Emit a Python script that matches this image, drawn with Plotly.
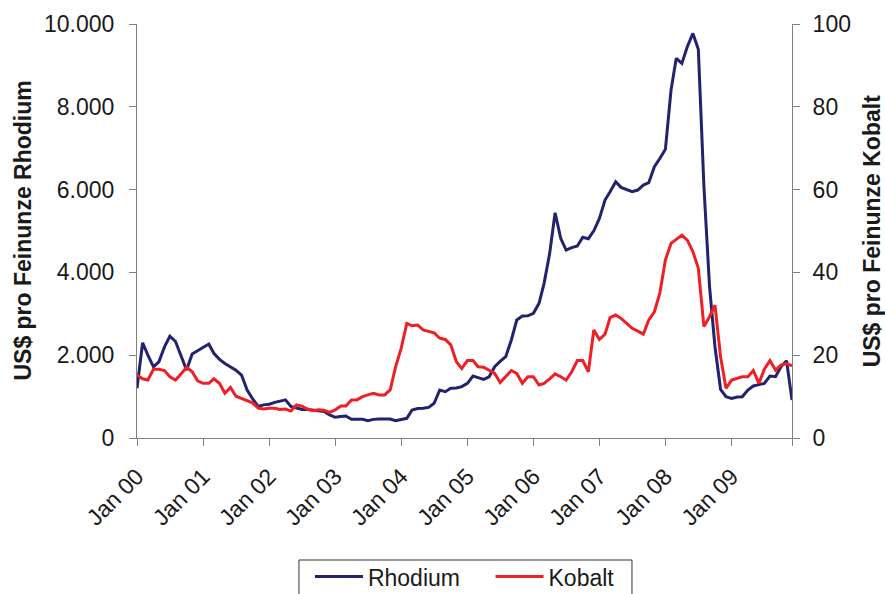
import plotly.graph_objects as go
import pandas as pd

# Monthly data Jan 2000 - Dec 2009
months = pd.date_range("2000-01-01", periods=120, freq="MS")

rhodium = [
    1200, 2300, 2000, 1720, 1840, 2200, 2460, 2330, 1980, 1640, 2030, 2110,
    2180, 2270, 2045, 1900, 1800, 1720, 1640, 1520, 1160, 950, 760, 800,
    815, 860, 890, 920, 760, 720, 690, 690, 676, 660, 640, 560,
    500, 520, 530, 450, 450, 450, 420, 450, 460, 460, 460, 420,
    440, 476, 676, 710, 720, 740, 840, 1160, 1118, 1200, 1210, 1240,
    1320, 1497, 1460, 1417, 1480, 1722, 1850, 1963, 2367, 2850, 2946, 2950,
    3011, 3253, 3736, 4460, 5441, 4823, 4540, 4600, 4637, 4847, 4814, 5006,
    5305, 5748, 5948, 6190, 6054, 6000, 5948, 5989, 6110, 6166, 6552, 6750,
    6972, 8404, 9170, 9049, 9450, 9773, 9387, 6069, 3654, 2205, 1176, 997,
    958, 990, 997, 1160, 1256, 1290, 1320, 1497, 1480, 1722, 1867, 918,
]

kobalt = [
    15.2, 14.3, 14.0, 16.6, 16.6, 16.3, 14.8, 14.0, 15.5, 17.1, 16.0, 13.8,
    13.2, 13.2, 14.3, 13.2, 10.8, 12.2, 10.1, 9.6, 9.0, 8.5, 7.2, 7.0,
    7.2, 7.2, 6.9, 7.0, 6.5, 8.0, 7.7, 7.0, 6.6, 6.8, 6.7, 6.2,
    6.8, 7.7, 7.7, 9.2, 9.2, 10.0, 10.4, 10.8, 10.4, 10.4, 11.6, 17.2,
    21.7, 27.7, 27.1, 27.3, 26.1, 25.8, 25.4, 24.1, 23.8, 22.5, 18.4, 16.8,
    18.7, 18.7, 17.2, 17.1, 16.3, 15.6, 13.4, 14.8, 16.3, 15.6, 13.2, 14.8,
    14.8, 12.8, 13.2, 14.3, 15.5, 14.8, 14.0, 16.0, 18.7, 18.7, 16.0, 26.1,
    23.8, 25.1, 29.1, 29.7, 28.9, 27.7, 26.5, 25.8, 25.1, 28.5, 30.5, 35.0,
    43.0, 47.0, 48.0, 49.0, 47.8, 45.0, 41.0, 26.9, 29.3, 32.1, 19.6, 12.0,
    14.0, 14.4, 14.8, 14.8, 16.3, 13.2, 16.6, 18.7, 16.4, 17.6, 18.0, 17.4,
]

x_tick_dates = ["2000-01-01", "2001-01-01", "2002-01-01", "2003-01-01", "2004-01-01",
                "2005-01-01", "2006-01-01", "2007-01-01", "2008-01-01", "2009-01-01",
                "2009-12-01"]
x_tick_text = ["Jan 00", "Jan 01", "Jan 02", "Jan 03", "Jan 04",
               "Jan 05", "Jan 06", "Jan 07", "Jan 08", "Jan 09", ""]

left_ticks = [0, 2000, 4000, 6000, 8000, 10000]
right_ticks = [0, 20, 40, 60, 80, 100]

FONT = "Liberation Sans, Arial, sans-serif"
AXIS_COL = "#808080"
TXT = "#1a1a1a"
PAD = "\u00a0" * 4

fig = go.Figure()
fig.add_trace(go.Scatter(x=months, y=rhodium, name="Rhodium" + PAD, mode="lines",
                         line=dict(color="#22226e", width=3), yaxis="y"))
fig.add_trace(go.Scatter(x=months, y=kobalt, name="Kobalt", mode="lines",
                         line=dict(color="#ee2026", width=3), yaxis="y2"))

fig.update_layout(
    width=885, height=594,
    margin=dict(l=137, r=93, t=24, b=156, autoexpand=False),
    paper_bgcolor="white", plot_bgcolor="white",
    separators=",.",
    font=dict(family=FONT, size=23, color=TXT),
    showlegend=True,
    legend=dict(orientation="h", x=0.264, xanchor="left", y=-0.283, yanchor="top",
                borderwidth=0, bgcolor="rgba(0,0,0,0)",
                font=dict(family=FONT, size=23, color=TXT),
                itemwidth=48),
    shapes=[dict(type="rect", xref="paper", yref="paper",
                 x0=0.2473, x1=0.7557, y0=-0.2947, y1=-0.40,
                 line=dict(color="#333333", width=1), fillcolor="white",
                 layer="below")],
    xaxis=dict(type="date", range=["2000-01-01", "2009-12-01"],
               tickvals=x_tick_dates, ticktext=x_tick_text, tickangle=-45,
               showgrid=False, zeroline=False, showline=True, linecolor=AXIS_COL,
               linewidth=1, ticks="outside", ticklen=7, tickcolor=AXIS_COL,
               ticklabelstandoff=8,
               tickfont=dict(family=FONT, size=23, color=TXT)),
    yaxis=dict(range=[0, 10000], tickvals=left_ticks, tickformat=",d",
               showgrid=False, zeroline=False, showline=True, linecolor=AXIS_COL,
               linewidth=1, ticks="outside", ticklen=7, tickcolor=AXIS_COL,
               ticklabelstandoff=10,
               tickfont=dict(family=FONT, size=23, color=TXT)),
    yaxis2=dict(range=[0, 100], tickvals=right_ticks, overlaying="y", side="right",
                showgrid=False, zeroline=False, showline=True, linecolor=AXIS_COL,
                linewidth=1, ticks="outside", ticklen=7, tickcolor=AXIS_COL,
                ticklabelstandoff=8,
                tickfont=dict(family=FONT, size=23, color=TXT)),
    annotations=[
        dict(text="<b>US$ pro Feinunze Rhodium</b>", xref="paper", yref="paper",
             x=-0.1747, y=0.5, xanchor="center", yanchor="middle", textangle=-90,
             showarrow=False, font=dict(family=FONT, size=23, color=TXT)),
        dict(text="<b>US$ pro Feinunze Kobalt</b>", xref="paper", yref="paper",
             x=1.1227, y=0.5, xanchor="center", yanchor="middle", textangle=-90,
             showarrow=False, font=dict(family=FONT, size=23, color=TXT)),
    ],
)

fig.write_html("out.html", config={"displayModeBar": False},
               post_script="document.body.style.margin='0';")
